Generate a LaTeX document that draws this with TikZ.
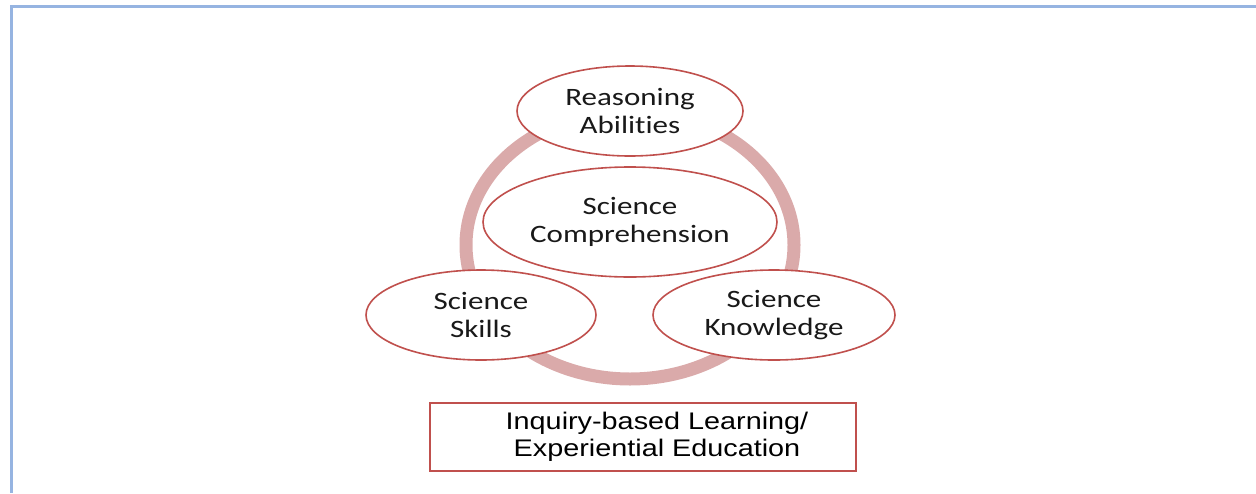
\documentclass[tikz,border=0pt]{standalone}
\usepackage{fontspec}
\newfontfamily\bubblefont[FakeStretch=1.24, RawFeature={-liga}]{Carlito}
\newfontfamily\basefont[FakeStretch=1.2]{Liberation Sans}
\usetikzlibrary{shapes.geometric}
\definecolor{frameblue}{RGB}{150,180,225}
\definecolor{ringpink}{RGB}{218,170,170}
\definecolor{bubblered}{RGB}{192,80,77}

\begin{document}
\begin{tikzpicture}[x=1pt, y=-1pt,
    bubble/.style={ellipse, draw=bubblered, line width=1.6pt, fill=white,
        inner sep=0pt, align=center, text=black!90,
        font=\bubblefont\fontsize{25}{28}\selectfont},
    basebox/.style={rectangle, draw=bubblered, line width=1.6pt, fill=white,
        minimum width=426pt, minimum height=68pt}
]
    \useasboundingbox (0,0) rectangle (1256,493);
    \draw[frameblue, line width=3pt] (11,493) -- (11,6) -- (1256,6);

    \node[ellipse, draw=ringpink, line width=13pt, inner sep=0pt,
        minimum width=328pt, minimum height=268pt] (ring) at (630,245) {};

    \node[bubble, minimum width=226pt, minimum height=90pt] (reason) at (630,111)
        {Reasoning\\Abilities};
    \node[bubble, minimum width=294pt, minimum height=110pt] (compr) at (630,222)
        {Science\\Comprehension};
    \node[bubble, minimum width=230pt, minimum height=90pt] (skills) at (481,315)
        {Science\\Skills};
    \node[bubble, minimum width=242pt, minimum height=90pt] (knowl) at (774,315)
        {Science\\Knowledge};

    \node[basebox, label={[xshift=14pt, align=center, text=black,
        font=\basefont\fontsize{24}{27}\selectfont]center:Inquiry-based Learning/\\Experiential Education}]
        (base) at (643,437) {};
\end{tikzpicture}
\end{document}
